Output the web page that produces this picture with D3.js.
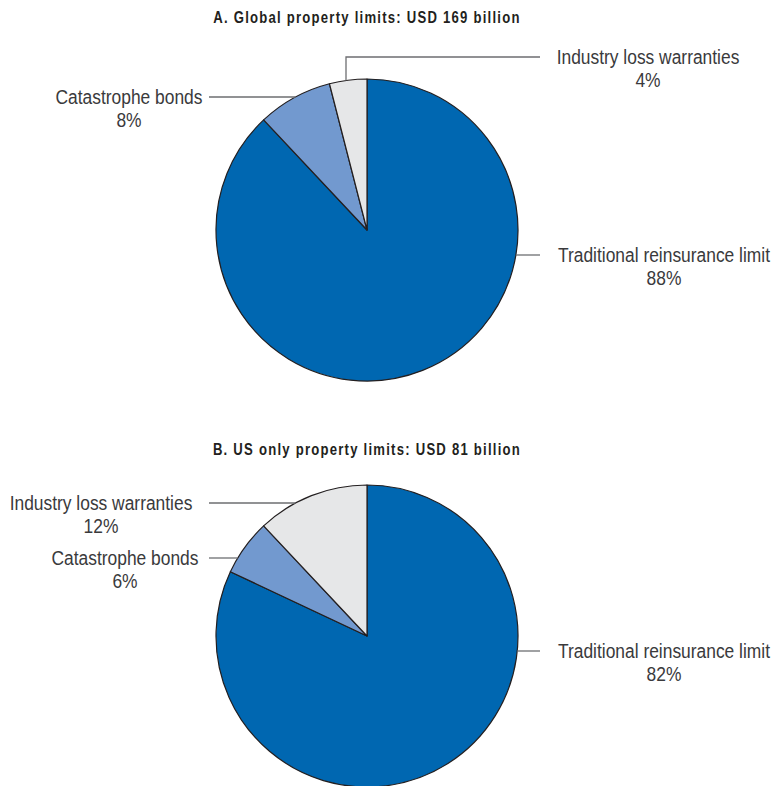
<!DOCTYPE html>
<html>
<head>
<meta charset="utf-8">
<script src="https://cdn.jsdelivr.net/npm/d3@7"></script>
<style>
  body { margin: 0; background: #fff; }
  svg text { font-family: "Liberation Sans", Arial, sans-serif; }
</style>
</head>
<body>
<div id="chart"></div>
<script>
// Data
const categories = ["Traditional reinsurance limit", "Catastrophe bonds", "Industry loss warranties"];
const globalShares = [88, 8, 4];
const usShares = [82, 6, 12];
const titles = [
  "A. Global property limits: USD 169 billion",
  "B. US only property limits: USD 81 billion",
];

const colors = ["#0067b1", "#7299cf", "#e6e7e8"];

// Layout
const width = 776;
const height = 786;
const radius = 151;
// no condensed font installed, so squeeze a regular one
const narrow = 0.87;

const panels = [
  {
    shares: globalShares,
    title: titles[0],
    cx: 367,
    cy: 230,
    titleY: 23,
    labels: [
      { side: "right", y: 255, end: 540, textX: 664 },
      { side: "left", y: 97, end: 209, textX: 129 },
      { side: "elbow", x: 346, y: 57, end: 540, textX: 648 },
    ],
  },
  {
    shares: usShares,
    title: titles[1],
    cx: 367,
    cy: 636,
    titleY: 455,
    labels: [
      { side: "right", y: 651, end: 540, textX: 664 },
      { side: "left", y: 558, end: 209, textX: 125 },
      { side: "left", y: 503, end: 209, textX: 101 },
    ],
  },
];

const svg = d3
  .select("#chart")
  .append("svg")
  .attr("width", width)
  .attr("height", height);

const pie = d3.pie().sort(null).value((d) => d);
const arc = d3.arc().innerRadius(0).outerRadius(radius);

panels.forEach((p) => {
  // title
  svg
    .append("g")
    .attr("transform", `translate(${p.cx},${p.titleY}) scale(0.82,1)`)
    .append("text")
    .attr("text-anchor", "middle")
    .style("font-weight", "bold")
    .style("font-size", "16px")
    .style("letter-spacing", "1.5px")
    .style("fill", "#231f20")
    .text(p.title);

  const g = svg.append("g").attr("transform", `translate(${p.cx},${p.cy})`);

  // slices
  g.selectAll("path")
    .data(pie(p.shares))
    .join("path")
    .attr("d", arc)
    .attr("fill", (d, i) => colors[i])
    .attr("stroke", "#231f20")
    .attr("stroke-width", 1.2)
    .attr("stroke-linejoin", "round");

  // leader lines and labels
  p.labels.forEach((l, i) => {
    let pts;
    if (l.side === "elbow") {
      const dx = l.x - p.cx;
      const ay = p.cy - Math.sqrt(radius * radius - dx * dx);
      pts = [[l.x, ay], [l.x, l.y], [l.end, l.y]];
    } else {
      const dy = l.y - p.cy;
      const dx = Math.sqrt(radius * radius - dy * dy);
      const ax = l.side === "right" ? p.cx + dx : p.cx - dx;
      pts = [[ax, l.y], [l.end, l.y]];
    }
    svg
      .append("path")
      .attr("d", d3.line()(pts))
      .attr("fill", "none")
      .attr("stroke", "#6d6e71")
      .attr("stroke-width", 1.3);

    const t = svg
      .append("g")
      .attr("transform", `translate(${l.textX},${l.y + 7}) scale(${narrow},1)`)
      .append("text")
      .attr("text-anchor", "middle")
      .style("font-size", "20px")
      .style("fill", "#3a3a3c");
    t.append("tspan").attr("x", 0).text(categories[i]);
    t.append("tspan")
      .attr("x", 0)
      .attr("dy", 23)
      .text(`${p.shares[i]}%`);
  });
});
</script>
</body>
</html>
